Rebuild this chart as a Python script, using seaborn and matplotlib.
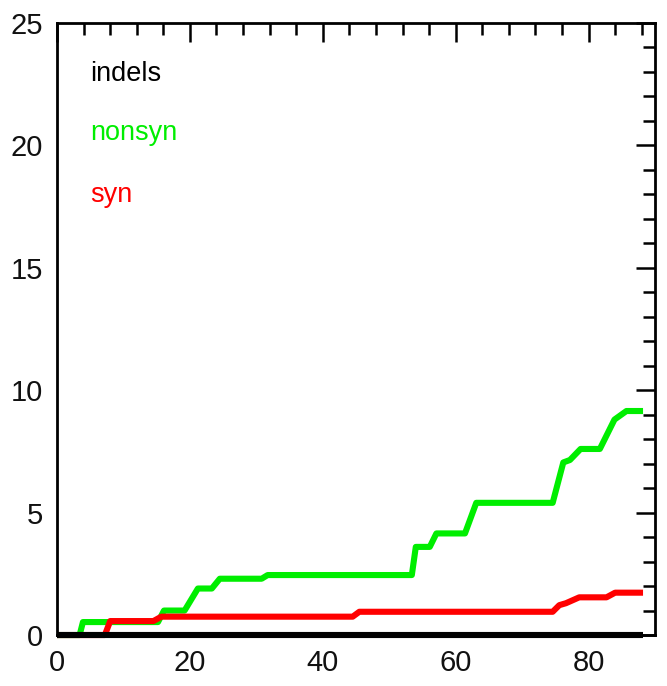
import matplotlib
matplotlib.use("Agg")
import matplotlib.pyplot as plt
import seaborn as sns
import pandas as pd
from matplotlib.ticker import MultipleLocator

# ---- data ----
indels_x = [0, 88.2]
indels_y = [0, 0]

nonsyn_x = [0, 3.4, 3.9, 15.2, 16.1, 19.2, 21.2, 23.3, 24.5, 30.8, 31.7, 53.4, 54.0,
            56.1, 57.1, 61.4, 63.1, 74.6, 76.2, 77.2, 78.8, 81.7, 83.9, 85.7, 88.2]
nonsyn_y = [0, 0, 0.53, 0.53, 1.0, 1.0, 1.9, 1.9, 2.3, 2.3, 2.45, 2.45, 3.6,
            3.6, 4.15, 4.15, 5.4, 5.4, 7.05, 7.15, 7.6, 7.6, 8.8, 9.15, 9.15]

syn_x = [0, 7.2, 8.0, 14.5, 15.7, 44.5, 45.5, 74.6, 75.6, 76.6, 78.6, 82.7, 84.0, 88.2]
syn_y = [0, 0, 0.57, 0.57, 0.75, 0.75, 0.95, 0.95, 1.22, 1.3, 1.54, 1.54, 1.73, 1.73]

series_names = ["indels", "nonsyn", "syn"]
series_colors = ["#000000", "#00ee00", "#ff0000"]

rows = []
for name, xs, ys in [("indels", indels_x, indels_y),
                     ("nonsyn", nonsyn_x, nonsyn_y),
                     ("syn", syn_x, syn_y)]:
    for i, (a, b) in enumerate(zip(xs, ys)):
        rows.append({"series": name, "x": a, "y": b, "idx": i})
df = pd.DataFrame(rows)

sns.set_theme(style="white")
plt.rcParams["font.family"] = ["Liberation Sans", "DejaVu Sans"]

fig = plt.figure(figsize=(6.67, 6.86), dpi=100)
ax = fig.add_axes([0.0855, 0.0743, 0.8965, 0.8922])

for name, col in zip(["nonsyn", "syn", "indels"], ["#00ee00", "#ff0000", "#000000"]):
    sub = df[df["series"] == name]
    sns.lineplot(data=sub, x="x", y="y", sort=False, estimator=None, color=col,
                 linewidth=4.4, ax=ax, legend=False, solid_capstyle="butt",
                 solid_joinstyle="round", clip_on=False)

ax.set_xlim(0, 90)
ax.set_ylim(0, 25)
ax.set_xticks([0, 20, 40, 60, 80])
ax.xaxis.set_minor_locator(MultipleLocator(4))
ax.yaxis.set_major_locator(MultipleLocator(5))
ax.yaxis.set_minor_locator(MultipleLocator(1))
ax.tick_params(which="major", direction="in", length=14, width=1.8,
               top=True, right=True, labelsize=21, pad=10, color="black",
               labelcolor="#111111")
ax.tick_params(which="minor", direction="in", length=8.5, width=1.8,
               top=True, right=True, color="black")
ax.set_xlabel("")
ax.set_ylabel("")
for s in ax.spines.values():
    s.set_linewidth(2.0)
    s.set_color("black")
    s.set_visible(True)

for name, col, yy in zip(series_names, series_colors, [0.905, 0.808, 0.708]):
    ax.text(0.055, yy, name, color=col, fontsize=19.5, transform=ax.transAxes,
            ha="left", va="baseline")

fig.savefig("out.png", dpi=100)
